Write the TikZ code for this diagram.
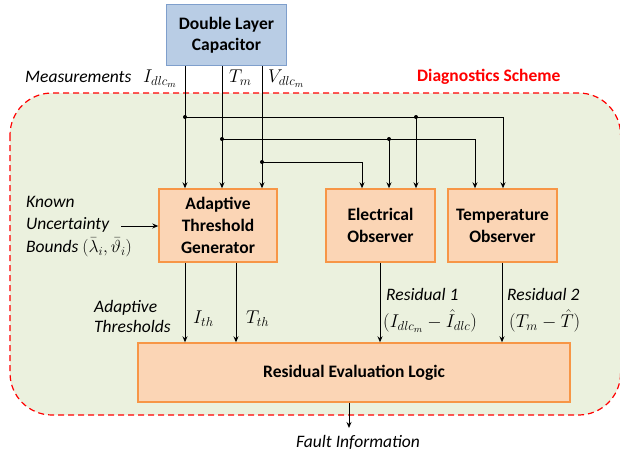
\RequirePackage{fix-cm}
\documentclass[tikz,border=0pt]{standalone}
\usepackage{fontspec}
\setmainfont{Carlito}
\usetikzlibrary{arrows.meta}
\definecolor{obfill}{HTML}{FBD5B5}
\definecolor{obdraw}{HTML}{F79646}
\definecolor{blfill}{HTML}{B9CDE5}
\definecolor{bldraw}{HTML}{7F9FCC}
\definecolor{bggreen}{HTML}{EBF1DE}
\definecolor{dred}{HTML}{FF0000}
\begin{document}
\begin{tikzpicture}[x=1pt,y=-1pt,
  font=\fontsize{17.5}{21}\selectfont,
  box/.style={draw=obdraw, fill=obfill, line width=1.4pt, align=center,
    font=\fontsize{17.5}{22}\selectfont\bfseries, inner sep=0pt},
  dlcbox/.style={draw=bldraw, fill=blfill, line width=1.2pt, align=center,
    font=\fontsize{17.5}{21}\selectfont\bfseries, inner sep=0pt},
  arr/.style={-{Stealth[length=6pt,width=5pt]}, line width=1pt},
  dot/.style={circle, fill=black, inner sep=0pt, minimum size=4pt},
  lbl/.style={font=\fontsize{17.5}{21}\selectfont\itshape, inner sep=0pt},
  mlbl/.style={font=\fontsize{18.5}{21}\selectfont, inner sep=0pt}
]
\useasboundingbox (0,0) rectangle (620,450);
% background region
\draw[dred, dash pattern=on 6pt off 4pt, line width=1.2pt, fill=bggreen, rounded corners=42pt]
  (10,93) rectangle (620.6,415);

% boxes
\node[dlcbox, minimum width=120pt, minimum height=61pt] (dlc) at (226.5,35) {Double Layer\\Capacitor};
\node[box, minimum width=118pt, minimum height=73pt] (atg) at (218,225.5) {Adaptive\\Threshold\\Generator};
\node[box, minimum width=109pt, minimum height=73pt] (eo) at (380.5,225.5) {Electrical\\Observer};
\node[box, minimum width=109pt, minimum height=73pt] (to) at (502.5,225.5) {Temperature\\Observer};
\node[box, minimum width=432pt, minimum height=59pt] (rel) at (354,372.5) {Residual Evaluation Logic};

% junctions and bus corners
\coordinate (cI) at (185,117);
\coordinate (cT) at (222,139);
\coordinate (cV) at (262,162);
\coordinate (jE1) at (416,117);
\coordinate (jE2) at (389,139);
\coordinate (cR1) at (503,117);
\coordinate (cR2) at (475,139);
\coordinate (cR3) at (362,162);

\draw[arr] (dlc.south -| cI) -- (atg.north -| cI);
\draw[arr] (dlc.south -| cT) -- (atg.north -| cT);
\draw[arr] (dlc.south -| cV) -- (atg.north -| cV);
\draw[arr] (cI) -- (cR1) -- (to.north -| cR1);
\draw[arr] (jE1) -- (eo.north -| jE1);
\draw[arr] (cT) -- (cR2) -- (to.north -| cR2);
\draw[arr] (jE2) -- (eo.north -| jE2);
\draw[arr] (cV) -- (cR3) -- (eo.north -| cR3);
\node[dot] (d1) at (cI) {};
\node[dot] (d2) at (jE1) {};
\node[dot] (d3) at (cT) {};
\node[dot] (d4) at (jE2) {};
\node[dot] (d5) at (cV) {};

% outputs
\coordinate (oI) at (185,300);
\coordinate (oT) at (236,300);
\coordinate (oE) at (380,300);
\coordinate (oR) at (502,300);
\draw[arr] (atg.south -| oI) -- (rel.north -| oI);
\draw[arr] (atg.south -| oT) -- (rel.north -| oT);
\draw[arr] (eo.south -| oE) -- (rel.north -| oE);
\draw[arr] (to.south -| oR) -- (rel.north -| oR);
\coordinate (fo) at (349,428);
\draw[arr] (rel.south -| fo) -- (fo);

% labels
\node[lbl, anchor=west] (meas) at (25,77) {Measurements};
\node[mlbl, anchor=west] (lI) at (143,79) {$I_{dlc_m}$};
\node[mlbl, anchor=west] (lT) at (229,78) {$T_m$};
\node[mlbl, anchor=west] (lV) at (268,79) {$V_{dlc_m}$};
\node[anchor=west, text=dred, font=\fontsize{17.5}{21}\selectfont\bfseries, inner sep=0pt] (ds) at (417,77) {Diagnostics Scheme};
\node[lbl, anchor=west, align=left, font=\fontsize{17.5}{22.5}\selectfont\itshape] (kub) at (26,226.5)
  {Known\\Uncertainty\\Bounds $(\bar{\lambda}_i, \bar{\vartheta}_i)$};
\coordinate (ka) at (121,226);
\draw[arr] (ka) -- (ka -| atg.west);
\node[lbl, anchor=west, align=left, font=\fontsize{17.5}{20}\selectfont\itshape] (adt) at (94,316) {Adaptive\\Thresholds};
\node[mlbl, anchor=west] (lIth) at (193,319) {$I_{th}$};
\node[mlbl, anchor=west] (lTth) at (246,319) {$T_{th}$};
\node[lbl, anchor=west] (r1) at (386,294) {Residual 1};
\node[mlbl, anchor=west] (r1f) at (383,321) {$(I_{dlc_m}-\hat{I}_{dlc})$};
\node[lbl, anchor=west] (r2) at (507,294) {Residual 2};
\node[mlbl, anchor=west] (r2f) at (509,321) {$(T_m-\hat{T})$};
\node[lbl] (fi) at (358,442) {Fault Information};
\end{tikzpicture}
\end{document}
